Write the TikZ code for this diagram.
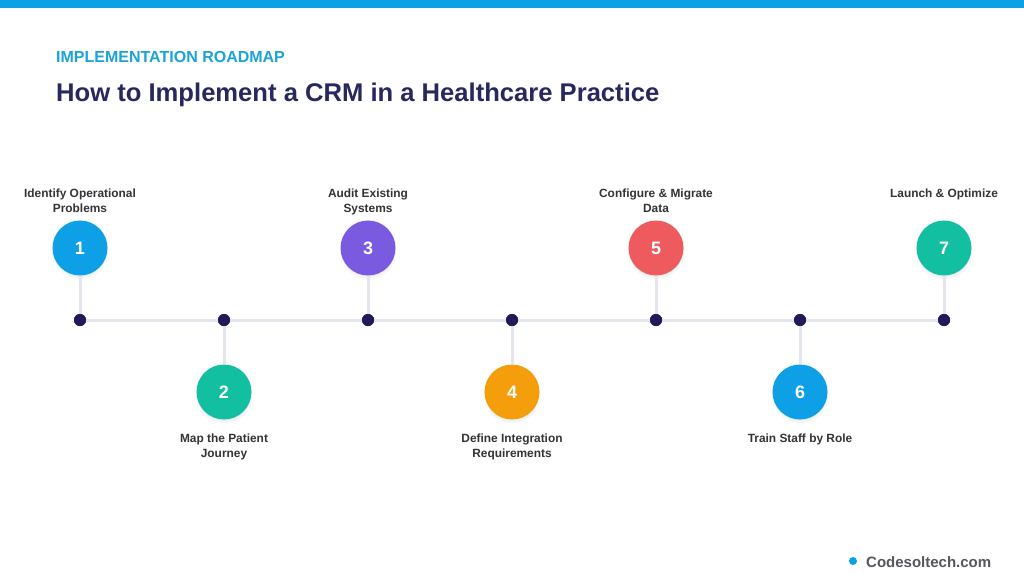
\documentclass[tikz,border=0pt]{standalone}
\usepackage{fontspec}
\setmainfont{Liberation Sans}
\usetikzlibrary{shadows}
\definecolor{topbar}{HTML}{0EA0E6}
\definecolor{kicker}{HTML}{1BA3D9}
\definecolor{navy}{HTML}{27285F}
\definecolor{dotc}{HTML}{1E1B58}
\definecolor{linec}{HTML}{E4E6EB}
\definecolor{labc}{HTML}{333338}
\definecolor{cA}{HTML}{0EA0E6}
\definecolor{cB}{HTML}{12BFA0}
\definecolor{cC}{HTML}{7A5BE0}
\definecolor{cD}{HTML}{F59E0B}
\definecolor{cE}{HTML}{EE5A5E}
\definecolor{footc}{HTML}{55575E}
\tikzset{
  stepcircle/.style={circle, minimum size=55pt, inner sep=0pt, text=white,
    font=\fontsize{18}{18}\selectfont\bfseries,
    circular drop shadow={shadow xshift=0pt, shadow yshift=-3pt, opacity=0.12, shadow scale=1.05}},
  tdot/.style={circle, fill=dotc, minimum size=12pt, inner sep=0pt},
  stem/.style={draw=linec, line width=3pt},
  steplabel/.style={align=center, text=labc, font=\fontsize{11.9}{15}\selectfont\bfseries, inner sep=0pt},
}
\begin{document}
\begin{tikzpicture}[x=1pt,y=-1pt]
\useasboundingbox (0,0) rectangle (1024,584);
\fill[white] (0,0) rectangle (1024,584);
\fill[topbar] (0,0) rectangle (1024,8);
\node[anchor=base west, inner sep=0pt, text=kicker, font=\fontsize{16}{16}\selectfont\bfseries] (kick) at (56,62.5) {IMPLEMENTATION ROADMAP};
\node[anchor=base west, inner sep=0pt, text=navy, font=\fontsize{25.6}{27}\selectfont\bfseries] (title) at (56,101.5) {How to Implement a CRM in a Healthcare Practice};
% timeline
\coordinate (tl) at (80,320);
\coordinate (tr) at (944,320);
\draw[stem] (tl) -- (tr);
\foreach \i/\x in {1/80,2/224,3/368,4/512,5/656,6/800,7/944} {
  \node[tdot] (d\i) at (\x,320) {};
}
% circles
\node[stepcircle, fill=cA] (c1) at (80,248) {1};
\node[stepcircle, fill=cB] (c2) at (224,392) {2};
\node[stepcircle, fill=cC] (c3) at (368,248) {3};
\node[stepcircle, fill=cD] (c4) at (512,392) {4};
\node[stepcircle, fill=cE] (c5) at (656,248) {5};
\node[stepcircle, fill=cA] (c6) at (800,392) {6};
\node[stepcircle, fill=cB] (c7) at (944,248) {7};
\foreach \i in {1,...,7} {
  \draw[stem] (c\i) -- (d\i);
}
\foreach \i in {1,...,7} {
  \node[tdot] at (d\i) {};
}
% labels
\node[steplabel, anchor=north] (l1) at (80,188.5) {Identify Operational\\Problems};
\node[steplabel, anchor=north] (l3) at (368,188.5) {Audit Existing\\Systems};
\node[steplabel, anchor=north] (l5) at (656,188.5) {Configure \& Migrate\\Data};
\node[steplabel, anchor=north] (l7) at (944,188.5) {Launch \& Optimize};
\node[steplabel, anchor=north] (l2) at (224,434) {Map the Patient\\Journey};
\node[steplabel, anchor=north] (l4) at (512,434) {Define Integration\\Requirements};
\node[steplabel, anchor=north] (l6) at (800,434) {Train Staff by Role};
% footer
\node[circle, fill=cA, minimum size=8pt, inner sep=0pt] (fdot) at (853,561) {};
\node[anchor=west, inner sep=0pt, text=footc, font=\fontsize{15}{15}\selectfont\bfseries] (foot) at (866,562) {Codesoltech.com};
\end{tikzpicture}
\end{document}
